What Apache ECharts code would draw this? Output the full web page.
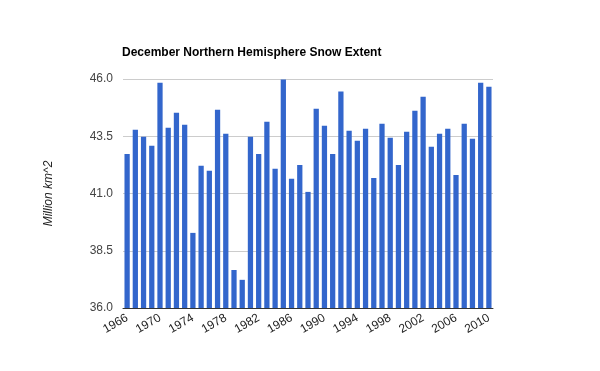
<!DOCTYPE html>
<html>
<head>
<meta charset="utf-8">
<script src="https://cdn.jsdelivr.net/npm/echarts@6/dist/echarts.min.js"></script>
<style>html,body{margin:0;padding:0;background:#fff}#c{width:600px;height:371px}</style>
</head>
<body>
<div id="c"></div>
<script>
var years = [];
for (var y = 1966; y <= 2010; y++) years.push(String(y));
var snowExtent = [
  42.73, 43.78, 43.48, 43.08, 45.84, 43.87, 44.53, 44.00, 39.28, 42.21,
  41.99, 44.66, 43.61, 37.66, 37.23, 43.48, 42.73, 44.13, 42.08, 45.98,
  41.64, 42.25, 41.07, 44.70, 43.96, 42.73, 45.45, 43.74, 43.30, 43.83,
  41.68, 44.05, 43.43, 42.25, 43.70, 44.61, 45.23, 43.04, 43.61, 43.83,
  41.81, 44.05, 43.39, 45.84, 45.66
];
var yTicks = [36.0, 38.5, 41.0, 43.5, 46.0];

var chart = echarts.init(document.getElementById('c'), null, {renderer: 'canvas'});
chart.setOption({
  animation: false,
  textStyle: {fontFamily: 'Liberation Sans, Arial, sans-serif'},
  title: {
    text: 'December Northern Hemisphere Snow Extent',
    left: 117, top: 42,
    textStyle: {fontSize: 12, fontWeight: 'bold', color: '#000', fontFamily: 'Liberation Sans, Arial, sans-serif'}
  },
  grid: {left: 123, right: 107, top: 79, bottom: 63, containLabel: false},
  xAxis: {
    type: 'category',
    data: years,
    boundaryGap: true,
    axisLine: {lineStyle: {color: '#333', width: 1}},
    axisTick: {show: false},
    axisLabel: {
      interval: 3, rotate: 30, fontSize: 12, color: '#222', margin: 9,
      fontFamily: 'Liberation Sans, Arial, sans-serif'
    }
  },
  yAxis: {
    type: 'value',
    min: yTicks[0], max: yTicks[yTicks.length - 1], interval: 2.5,
    name: 'Million km^2',
    nameLocation: 'middle',
    nameGap: 68,
    nameTextStyle: {fontStyle: 'italic', fontSize: 12, color: '#222', fontFamily: 'Liberation Sans, Arial, sans-serif'},
    axisLine: {show: false},
    axisTick: {show: false},
    splitLine: {lineStyle: {color: '#cccccc', width: 1}},
    axisLabel: {
      fontSize: 12, color: '#444', margin: 10,
      formatter: function (v) { return v.toFixed(1); }
    }
  },
  series: [{
    type: 'bar',
    data: snowExtent,
    barCategoryGap: '36%',
    itemStyle: {color: '#3366cc'}
  }]
});
</script>
</body>
</html>
